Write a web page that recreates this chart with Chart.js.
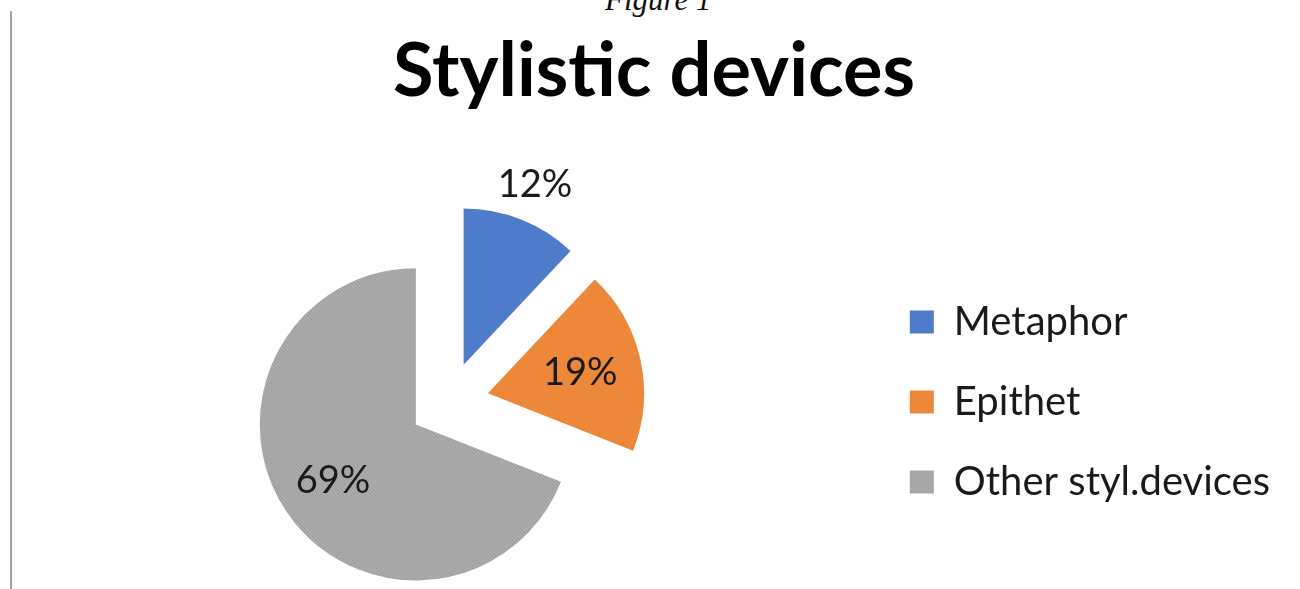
<!DOCTYPE html>
<html>
<head>
<meta charset="utf-8">
<title>Stylistic devices</title>
<script src="https://cdn.jsdelivr.net/npm/chart.js@4.4.1/dist/chart.umd.min.js"></script>
<style>
  body { margin: 0; background: #fff; width: 1300px; height: 589px; overflow: hidden; position: relative; }
  #figura { position: absolute; left: 605px; top: -16px; font: italic 31px "Liberation Serif", serif; line-height: 31px; color: #111; }
  #linha { position: absolute; left: 10px; top: 11px; width: 2px; height: 578px; background: #a3a3a3; }
  canvas { position: absolute; left: 0; top: 0; }
</style>
</head>
<body>
<div id="figura">Figure 1</div>
<canvas id="grafico" width="1300" height="589"></canvas>
<div id="linha"></div>
<script>
const categorias = ["Metaphor", "Epithet", "Other styl.devices"];
const valores = [12, 19, 69];

// pie "explodida": cada fatia sai do centro 40px; rótulos em fração do raio
const explosao = 40;
const posRotulo = [1.241, 0.606, 0.642];

function padraoCinza() {
  const c = document.createElement("canvas");
  c.width = 4;
  c.height = 4;
  const g = c.getContext("2d");
  g.fillStyle = "#ababab";
  g.fillRect(0, 0, 4, 4);
  g.fillStyle = "#9c9c9c";
  [[0, 0], [2, 1], [1, 2], [3, 3]].forEach(p => g.fillRect(p[0], p[1], 1, 1));
  return g.createPattern(c, "repeat");
}

const cores = ["#4e7cca", "#ed8739", padraoCinza()];

const explodirFatias = {
  id: "explodirFatias",
  afterDatasetsUpdate(chart) {
    chart.getDatasetMeta(0).data.forEach(arc => {
      const meio = (arc.startAngle + arc.endAngle) / 2;
      arc.x += Math.cos(meio) * explosao;
      arc.y += Math.sin(meio) * explosao;
    });
  }
};

const rotulosFatias = {
  id: "rotulosFatias",
  afterDatasetsDraw(chart) {
    const ctx = chart.ctx;
    const total = valores.reduce((s, v) => s + v, 0);
    ctx.save();
    ctx.font = "38px Lato";
    ctx.fillStyle = "#1a1a1a";
    ctx.textAlign = "center";
    ctx.textBaseline = "middle";
    chart.getDatasetMeta(0).data.forEach((arc, i) => {
      const meio = (arc.startAngle + arc.endAngle) / 2;
      const r = arc.outerRadius * posRotulo[i];
      const texto = Math.round(valores[i] / total * 100) + "%";
      ctx.fillText(texto, arc.x + Math.cos(meio) * r, arc.y + Math.sin(meio) * r);
    });
    ctx.restore();
  }
};

new Chart(document.getElementById("grafico"), {
  type: "pie",
  data: {
    labels: categorias,
    datasets: [{ data: valores, backgroundColor: cores, borderWidth: 0 }]
  },
  options: {
    responsive: false,
    animation: false,
    events: [],
    layout: { padding: { left: 28, right: 20, top: 0, bottom: 31 } },
    plugins: {
      title: {
        display: true,
        text: "Stylistic devices",
        color: "#000",
        font: { family: "Lato", size: 74, weight: "bold" },
        padding: { top: 28, bottom: 129 }
      },
      legend: {
        position: "right",
        align: "center",
        fullSize: false,
        labels: {
          color: "#1a1a1a",
          font: { family: "Lato", size: 40 },
          boxWidth: 24,
          boxHeight: 23,
          padding: 40
        }
      },
      tooltip: { enabled: false }
    }
  },
  plugins: [explodirFatias, rotulosFatias]
});
</script>
</body>
</html>
